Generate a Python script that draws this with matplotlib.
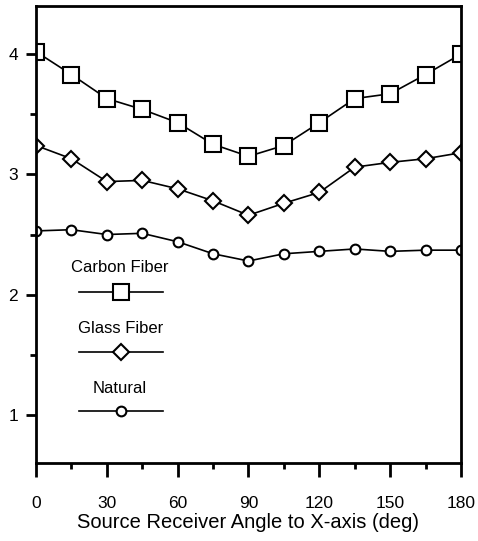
import numpy as np
import matplotlib
matplotlib.use("Agg")
import matplotlib.pyplot as plt
from matplotlib.ticker import MultipleLocator

plt.rcParams['font.family'] = ['Liberation Sans', 'DejaVu Sans']

# Source-receiver angle (deg) and measured values for the three samples
angles = [0, 15, 30, 45, 60, 75, 90, 105, 120, 135, 150, 165, 180]
carbon_fiber = [4.02, 3.83, 3.63, 3.54, 3.43, 3.25, 3.15, 3.24, 3.43, 3.63, 3.67, 3.83, 4.00]
glass_fiber = [3.24, 3.13, 2.94, 2.95, 2.88, 2.78, 2.66, 2.76, 2.85, 3.06, 3.10, 3.13, 3.18]
natural = [2.53, 2.54, 2.50, 2.51, 2.44, 2.34, 2.28, 2.34, 2.36, 2.38, 2.36, 2.37, 2.37]

series_names = ["Carbon Fiber", "Glass Fiber", "Natural"]
x_ticks = [0, 30, 60, 90, 120, 150, 180]
y_ticks = [1, 2, 3, 4]

styles = [
    dict(marker='s', markersize=12),
    dict(marker='D', markersize=8),
    dict(marker='o', markersize=7),
]

fig = plt.figure(figsize=(4.78, 5.41), dpi=100)
ax = fig.add_axes([0.0753, 0.144, 0.8891, 0.845])

for values, st in zip([carbon_fiber, glass_fiber, natural], styles):
    ax.plot(angles, values, color='black', linewidth=1.2,
            markerfacecolor='white', markeredgecolor='black',
            markeredgewidth=1.5, **st)

ax.set_xlim(0, 180)
ax.set_ylim(0.6, 4.4)
ax.set_xticks(x_ticks)
ax.set_yticks(y_ticks)
ax.xaxis.set_minor_locator(MultipleLocator(15))
ax.yaxis.set_minor_locator(MultipleLocator(0.5))
ax.tick_params(which='major', direction='out', width=2, labelsize=12.5, color='black')
ax.tick_params(axis='x', which='major', length=10, pad=14)
ax.tick_params(axis='y', which='major', length=7, pad=6)
ax.tick_params(which='minor', direction='out', width=2, length=4)
for side in ['left', 'right', 'bottom', 'top']:
    ax.spines[side].set_linewidth(2)
ax.set_xlabel("Source Receiver Angle to X-axis (deg)", fontsize=14.5, labelpad=1)

# Hand-made legend: label above a short sample line with marker
label_y = [0.427, 0.295, 0.164]
line_y = [0.374, 0.243, 0.114]
for name, st, ty, ly in zip(series_names, styles, label_y, line_y):
    ax.text(0.198, ty, name, transform=ax.transAxes, ha='center', va='center', fontsize=12)
    ax.plot([0.101, 0.299], [ly, ly], transform=ax.transAxes, color='black', linewidth=1.2)
    ax.plot([0.20], [ly], transform=ax.transAxes, color='black',
            markerfacecolor='white', markeredgecolor='black', markeredgewidth=1.5,
            linestyle='none', **st)

fig.savefig("out.png", dpi=100)
